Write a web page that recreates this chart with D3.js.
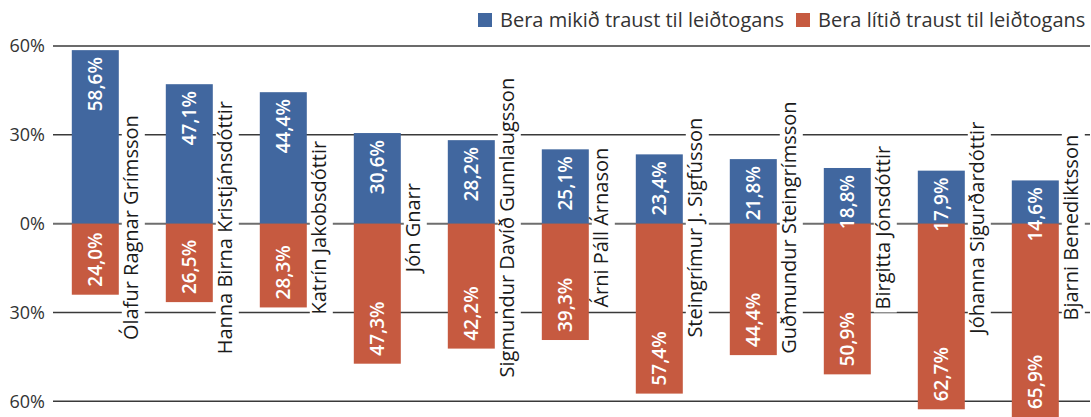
<!DOCTYPE html>
<html>
<head>
<meta charset="utf-8">
<script src="https://cdn.jsdelivr.net/npm/d3@7"></script>
<style>
  body { margin: 0; background: #fff; }
  svg { display: block; font-family: "Open Sans", sans-serif; }
</style>
</head>
<body>
<svg id="chart" width="1091" height="417"></svg>
<script>
// leaders and the share who trust / distrust each one
const names = [
  'Ólafur Ragnar Grímsson', 'Hanna Birna Kristjánsdóttir', 'Katrín Jakobsdóttir',
  'Jón Gnarr', 'Sigmundur Davíð Gunnlaugsson', 'Árni Páll Árnason',
  'Steingrímur J. Sigfússon', 'Guðmundur Steingrímsson', 'Birgitta Jónsdóttir',
  'Jóhanna Sigurðardóttir', 'Bjarni Benediktsson'
];
const highTrust = [58.6, 47.1, 44.4, 30.6, 28.2, 25.1, 23.4, 21.8, 18.8, 17.9, 14.6];
const lowTrust = [24.0, 26.5, 28.3, 47.3, 42.2, 39.3, 57.4, 44.4, 50.9, 62.7, 65.9];
const yTicks = [60, 30, 0, -30, -60];
const seriesNames = ['Bera mikið traust til leiðtogans', 'Bera lítið traust til leiðtogans'];
const colors = ['#41679f', '#c65a40'];

const svg = d3.select('#chart');
const fmt = v => v.toFixed(1).replace('.', ',') + '%';

const x = d3.scaleBand()
  .domain(names)
  .range([53, 1087])
  .padding(0);
const bw = x.bandwidth();

const y = d3.scaleLinear()
  .domain([-60, 60])
  .range([401.3, 46]);

// grid lines
svg.append('g')
  .selectAll('line')
  .data(yTicks)
  .enter()
  .append('line')
  .attr('x1', 53)
  .attr('x2', 1090)
  .attr('y1', d => y(d))
  .attr('y2', d => y(d))
  .attr('stroke', d => d === 0 ? '#6e6e6e' : '#3a3a3a')
  .attr('stroke-width', d => d === 0 ? 2 : 1.5);

// tick labels
svg.append('g')
  .selectAll('text')
  .data(yTicks)
  .enter()
  .append('text')
  .attr('x', 45)
  .attr('y', d => y(d))
  .attr('dy', '0.36em')
  .attr('text-anchor', 'end')
  .attr('font-size', 18)
  .attr('fill', '#333')
  .text(d => Math.abs(d) + '%');

const barX = d => x(d) + bw * 0.2;
const barW = bw * 0.5;

// blue bars
svg.append('g')
  .selectAll('rect')
  .data(names)
  .enter()
  .append('rect')
  .attr('x', barX)
  .attr('width', barW)
  .attr('y', (d, i) => y(highTrust[i]))
  .attr('height', (d, i) => y(0) - y(highTrust[i]))
  .attr('fill', colors[0]);

// red bars
svg.append('g')
  .selectAll('rect')
  .data(names)
  .enter()
  .append('rect')
  .attr('x', barX)
  .attr('width', barW)
  .attr('y', y(0))
  .attr('height', (d, i) => y(-lowTrust[i]) - y(0))
  .attr('fill', colors[1]);

// value labels inside bars
const valG = svg.append('g')
  .attr('fill', '#fff')
  .attr('font-size', 19)
  .attr('font-weight', 600);

names.forEach((n, i) => {
  const cx = barX(n) + barW / 2;
  const yt = y(highTrust[i]) + 7;
  valG.append('text')
    .attr('transform', `translate(${cx},${yt}) rotate(-90)`)
    .attr('text-anchor', 'end')
    .attr('dy', '0.36em')
    .text(fmt(highTrust[i]));
  const yb = Math.min(y(-lowTrust[i]), 417) - 8;
  valG.append('text')
    .attr('transform', `translate(${cx},${yb}) rotate(-90)`)
    .attr('text-anchor', 'start')
    .attr('dy', '0.36em')
    .text(fmt(lowTrust[i]));
});

// name labels with white box behind
const nameG = svg.append('g');
names.forEach(n => {
  const lx = barX(n) + barW + 19;
  const ly = y(0) + 4;
  const g = nameG.append('g').attr('transform', `translate(${lx},${ly}) rotate(-90)`);
  const rect = g.append('rect').attr('fill', '#fff');
  const t = g.append('text')
    .attr('text-anchor', 'middle')
    .attr('font-size', 20)
    .attr('fill', '#1a1a1a')
    .text(n);
  const len = t.node().getComputedTextLength();
  rect.attr('x', -len / 2 - 3)
    .attr('width', len + 6)
    .attr('y', -16)
    .attr('height', 23);
});

// legend
const legend = svg.append('g');
const legendPos = [478, 796];
seriesNames.forEach((s, i) => {
  legend.append('rect')
    .attr('x', legendPos[i])
    .attr('y', 13)
    .attr('width', 14)
    .attr('height', 14)
    .attr('fill', colors[i]);
  legend.append('text')
    .attr('x', legendPos[i] + 22)
    .attr('y', 20)
    .attr('dy', '0.36em')
    .attr('font-size', 20)
    .attr('fill', '#333')
    .text(s);
});
</script>
</body>
</html>
